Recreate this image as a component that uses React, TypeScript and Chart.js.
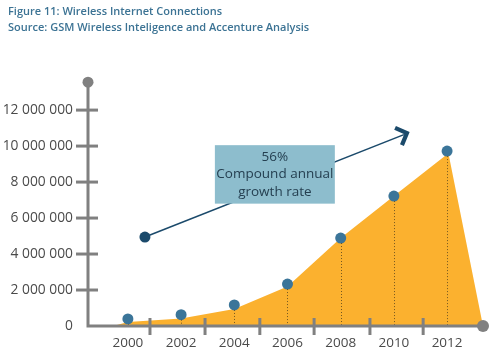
import React, { useEffect, useRef } from "react";
import { Chart, registerables } from "chart.js";

Chart.register(...registerables);

const TITLE = "Figure 11: Wireless Internet Connections";
const SUBTITLE = "Source: GSM Wireless Inteligence and Accenture Analysis";

// Blue markers (connections per year)
const pointYears = [2000, 2002, 2004, 2006, 2008, 2010, 2012];
const pointValues = [390000, 630000, 1170000, 2330000, 4890000, 7220000, 9720000];

// Orange area outline
const areaYears = [1999.45, 2000, 2002, 2004, 2006, 2008, 2010, 2012.05, 2013.35];
const areaValues = [0, 220000, 420000, 950000, 2200000, 4890000, 7220000, 9600000, 0];

// Axis ticks
const xLabelYears = [2000, 2002, 2004, 2006, 2008, 2010, 2012];
const xTickMarkYears = [2000.83, 2002.9, 2004.96, 2007.0, 2009.1, 2011.1];
const yTickValues = [0, 2000000, 4000000, 6000000, 8000000, 10000000, 12000000];

const X_MIN = 1998.5;
const X_MAX = 2013.35;
const Y_MAX = 13550000;

// Growth annotation (data coordinates)
const arrowStart = { x: 2000.64, y: 4940000 };
const arrowEnd = { x: 2010.49, y: 10720000 };
const boxCorners = { x0: 2003.27, x1: 2007.78, yTop: 10050000, yBottom: 6800000 };
const boxLines = ["56%", "Compound annual", "growth rate"];

const AXIS_GRAY = "#808080";
const AREA_COLOR = "#FBB12F";
const POINT_COLOR = "#3B7599";
const NAVY = "#1B4A6B";
const FONT = "'Open Sans', 'Noto Sans', sans-serif";
const TITLE_INDENT = 8;

const fmt = (v: number) => String(Math.round(v)).replace(/\B(?=(\d{3})+(?!\d))/g, " ");

const titleIndentPlugin = {
  id: "titleIndent",
  afterLayout(chart: any) {
    chart.boxes.forEach((b: any) => {
      const t = b && b.options && b.options.text;
      if (t === TITLE || t === SUBTITLE) {
        b.left += TITLE_INDENT;
        b.right += TITLE_INDENT;
      }
    });
  },
};

const overlayPlugin = {
  id: "overlay",
  afterDatasetsDraw(chart: any) {
    const { ctx } = chart;
    const xs = chart.scales.x;
    const ys = chart.scales.y;
    const x0 = xs.getPixelForValue(X_MIN);
    const x1 = xs.getPixelForValue(X_MAX);
    const y0 = ys.getPixelForValue(0);
    const yTop = ys.getPixelForValue(Y_MAX);
    ctx.save();

    // dotted drop lines
    ctx.strokeStyle = "rgba(90,70,30,0.85)";
    ctx.lineWidth = 1;
    ctx.setLineDash([1, 2]);
    pointYears.forEach((yr, i) => {
      const px = xs.getPixelForValue(yr);
      const py = ys.getPixelForValue(pointValues[i]);
      ctx.beginPath();
      ctx.moveTo(Math.round(px) + 0.5, py + 5);
      ctx.lineTo(Math.round(px) + 0.5, y0);
      ctx.stroke();
    });
    ctx.setLineDash([]);

    // axes
    ctx.strokeStyle = AXIS_GRAY;
    ctx.lineWidth = 3;
    ctx.beginPath();
    ctx.moveTo(x0, yTop);
    ctx.lineTo(x0, y0);
    ctx.lineTo(x1, y0);
    ctx.stroke();
    // y tick marks
    yTickValues.forEach((v) => {
      if (v === 0) return;
      const py = ys.getPixelForValue(v);
      ctx.beginPath();
      ctx.moveTo(x0 - 12, py);
      ctx.lineTo(x0 + 10, py);
      ctx.stroke();
    });
    // x tick marks
    xTickMarkYears.forEach((yr) => {
      const px = xs.getPixelForValue(yr);
      ctx.beginPath();
      ctx.moveTo(px, y0 - 8);
      ctx.lineTo(px, y0 + 9);
      ctx.stroke();
    });
    // end circles
    ctx.fillStyle = AXIS_GRAY;
    ctx.beginPath();
    ctx.arc(x0, yTop, 5.5, 0, Math.PI * 2);
    ctx.fill();
    ctx.beginPath();
    ctx.arc(x1, y0, 6, 0, Math.PI * 2);
    ctx.fill();

    // annotation arrow
    const ax = xs.getPixelForValue(arrowStart.x);
    const ay = ys.getPixelForValue(arrowStart.y);
    const bx = xs.getPixelForValue(arrowEnd.x);
    const by = ys.getPixelForValue(arrowEnd.y);
    ctx.strokeStyle = NAVY;
    ctx.lineWidth = 1.6;
    ctx.beginPath();
    ctx.moveTo(ax, ay);
    ctx.lineTo(bx - 3, by + 1.5);
    ctx.stroke();
    const ang = Math.atan2(by - ay, bx - ax);
    const arm = 13;
    const spread = 0.8;
    ctx.lineWidth = 4.2;
    ctx.lineJoin = "miter";
    ctx.beginPath();
    ctx.moveTo(bx - arm * Math.cos(ang - spread), by - arm * Math.sin(ang - spread));
    ctx.lineTo(bx, by);
    ctx.lineTo(bx - arm * Math.cos(ang + spread), by - arm * Math.sin(ang + spread));
    ctx.stroke();
    ctx.fillStyle = NAVY;
    ctx.beginPath();
    ctx.arc(ax, ay, 5.5, 0, Math.PI * 2);
    ctx.fill();

    // annotation box
    const bx0 = xs.getPixelForValue(boxCorners.x0);
    const bx1 = xs.getPixelForValue(boxCorners.x1);
    const byT = ys.getPixelForValue(boxCorners.yTop);
    const byB = ys.getPixelForValue(boxCorners.yBottom);
    ctx.fillStyle = "#8DBDCD";
    ctx.fillRect(bx0, byT, bx1 - bx0, byB - byT);
    ctx.fillStyle = "#243F50";
    ctx.font = `13.5px ${FONT}`;
    ctx.textAlign = "center";
    ctx.textBaseline = "middle";
    const cx = (bx0 + bx1) / 2;
    const cy = (byT + byB) / 2;
    const lh = 17.5;
    boxLines.forEach((t, i) => {
      ctx.fillText(t, cx, cy + (i - 1) * lh);
    });
    ctx.restore();
  },
};

export default function App() {
  const ref = useRef<HTMLCanvasElement | null>(null);
  useEffect(() => {
    if (!ref.current) return;
    const chart = new Chart(ref.current, {
      type: "line",
      data: {
        datasets: [
          {
            label: "Connections",
            data: pointYears.map((x, i) => ({ x, y: pointValues[i] })),
            showLine: false,
            pointRadius: 5.5,
            pointBackgroundColor: POINT_COLOR,
            pointBorderWidth: 0,
            order: 0,
          },
          {
            label: "Area",
            data: areaYears.map((x, i) => ({ x, y: areaValues[i] })),
            fill: "origin",
            backgroundColor: AREA_COLOR,
            borderWidth: 0,
            pointRadius: 0,
            tension: 0,
            order: 1,
          },
        ],
      },
      options: {
        responsive: false,
        animation: false,
        devicePixelRatio: 1,
        layout: { padding: { left: 0, right: 17, top: 0, bottom: 0 } },
        plugins: {
          legend: { display: false },
          tooltip: { enabled: false },
          title: {
            display: true,
            text: TITLE,
            align: "start",
            color: "#3C7394",
            font: { family: FONT, size: 11, weight: "600" },
            padding: { top: 5, bottom: 3 },
          },
          subtitle: {
            display: true,
            text: SUBTITLE,
            align: "start",
            color: "#3C7394",
            font: { family: FONT, size: 11, weight: "600" },
            padding: { top: 0, bottom: 47.8 },
          },
        },
        scales: {
          x: {
            type: "linear",
            min: X_MIN,
            max: X_MAX,
            grid: { display: false, drawTicks: false },
            border: { display: false },
            afterBuildTicks: (s: any) => {
              s.ticks = xLabelYears.map((v) => ({ value: v }));
            },
            afterFit: (s: any) => {
              s.height = 30;
            },
            ticks: {
              autoSkip: false,
              maxRotation: 0,
              padding: 9,
              color: "#4A4A4A",
              font: { family: FONT, size: 13.5 },
              callback: (v: any) => String(v),
            },
          },
          y: {
            min: 0,
            max: Y_MAX,
            grid: { display: false, drawTicks: false },
            border: { display: false },
            afterBuildTicks: (s: any) => {
              s.ticks = yTickValues.map((v) => ({ value: v }));
            },
            afterFit: (s: any) => {
              s.width = 88;
            },
            ticks: {
              autoSkip: false,
              padding: 15,
              color: "#4A4A4A",
              font: { family: FONT, size: 13.8 },
              callback: (v: any) => fmt(Number(v)),
            },
          },
        },
      },
      plugins: [titleIndentPlugin, overlayPlugin],
    });
    return () => chart.destroy();
  }, []);
  return (
    <div style={{ position: "fixed", left: 0, top: 0, width: 500, height: 356, background: "#fff" }}>
      <canvas ref={ref} width={500} height={356} />
    </div>
  );
}
